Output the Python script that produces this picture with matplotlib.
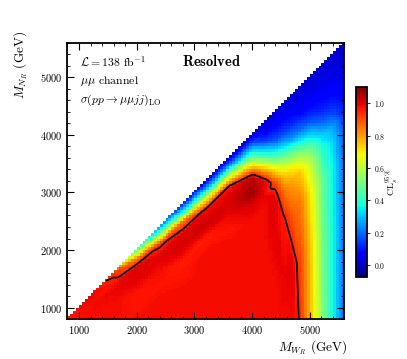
import numpy as np
import matplotlib
matplotlib.use("Agg")
import matplotlib.pyplot as plt
import matplotlib.tri as mtri
from matplotlib.ticker import MultipleLocator

plt.rcParams['font.family'] = 'serif'
plt.rcParams['font.serif'] = ['cmr10']
plt.rcParams['mathtext.fontset'] = 'cm'
plt.rcParams['axes.formatter.use_mathtext'] = True
plt.rcParams['axes.unicode_minus'] = False

# CLs on a coarse grid
# columns: M_WR nodes, rows: distance below the diagonal, M_WR - M_NR
mw_nodes = [800, 1200, 1600, 2000, 2400, 2800, 3200, 3600, 4000, 4200, 4400, 4550, 4700, 4850, 5000, 5200, 5400, 5600]
gap_nodes = [0, 150, 300, 500, 750, 1000, 1250, 1500, 2000, 3000, 4800]
cls_values = [
    # 800  1200  1600  2000  2400  2800  3200  3600  4000  4200  4400  4550  4700  4850  5000  5200  5400  5600
    [0.97, 0.99, 0.93, 0.50, 0.28, 0.14, 0.07, 0.04, 0.03, 0.03, 0.03, 0.03, 0.03, 0.02, 0.02, 0.02, 0.02, 0.01],
    [0.97, 0.98, 0.97, 0.86, 0.62, 0.42, 0.32, 0.27, 0.18, 0.06, 0.05, 0.05, 0.04, 0.03, 0.03, 0.03, 0.02, 0.02],
    [0.97, 0.98, 0.99, 1.00, 0.93, 0.84, 0.65, 0.60, 0.37, 0.14, 0.09, 0.08, 0.07, 0.05, 0.05, 0.04, 0.03, 0.02],
    [0.97, 0.98, 0.98, 1.00, 1.00, 1.00, 0.98, 0.97, 0.66, 0.36, 0.18, 0.15, 0.12, 0.09, 0.08, 0.06, 0.05, 0.03],
    [0.97, 0.98, 0.98, 0.97, 0.98, 1.01, 1.02, 1.01, 1.04, 0.70, 0.42, 0.33, 0.25, 0.20, 0.16, 0.11, 0.09, 0.05],
    [0.97, 0.98, 0.98, 0.97, 0.97, 0.96, 0.96, 0.99, 1.07, 1.00, 0.70, 0.56, 0.48, 0.40, 0.33, 0.20, 0.15, 0.08],
    [0.97, 0.98, 0.98, 0.98, 0.98, 0.97, 0.98, 0.97, 1.00, 0.99, 0.92, 0.74, 0.68, 0.60, 0.50, 0.34, 0.26, 0.12],
    [0.97, 0.98, 0.98, 0.98, 0.98, 0.98, 0.98, 0.98, 0.98, 0.98, 1.00, 0.84, 0.79, 0.74, 0.62, 0.42, 0.32, 0.16],
    [0.97, 0.98, 0.98, 0.98, 0.98, 0.98, 0.98, 0.98, 0.98, 0.98, 1.00, 0.96, 0.87, 0.84, 0.71, 0.50, 0.36, 0.18],
    [0.97, 0.98, 0.98, 0.98, 0.98, 0.98, 0.98, 0.98, 0.98, 0.98, 0.98, 0.99, 1.00, 0.90, 0.76, 0.53, 0.37, 0.19],
    [0.97, 0.98, 0.98, 0.98, 0.98, 0.98, 0.98, 0.98, 0.98, 0.98, 0.98, 0.98, 0.97, 0.94, 0.78, 0.55, 0.37, 0.18],
]
contour_level = 0.95
cbar_ticks = [0.0, 0.2, 0.4, 0.6, 0.8, 1.0]

# triangulation of the nodes (M_WR, M_NR)
mw = np.array(mw_nodes, dtype=float)
gap = np.array(gap_nodes, dtype=float)
nx, ny = len(mw), len(gap)
px = np.tile(mw, ny)
py = (mw[None, :] - gap[:, None]).ravel()
tris = []
for j in range(ny - 1):
    for i in range(nx - 1):
        k = j * nx + i
        tris.append([k, k + 1, k + nx + 1])
        tris.append([k, k + nx + 1, k + nx])
tri = mtri.Triangulation(px, py, tris)
interp = mtri.LinearTriInterpolator(tri, np.array(cls_values).ravel())


def field(step):
    edges = np.arange(800, 5600 + step, step)
    c = 0.5 * (edges[1:] + edges[:-1])
    X, Y = np.meshgrid(c, c)
    Z = interp(X, np.minimum(Y, X - 1.0))
    Z = np.ma.masked_where((Y > X) | np.ma.getmaskarray(Z), Z)
    return edges, X, Y, Z


fig = plt.figure(figsize=(4.07, 3.59), dpi=100)
ax = fig.add_axes([0.1658, 0.1106, 0.6806, 0.771])
cax = fig.add_axes([0.8747, 0.2292, 0.0263, 0.529])

edges, X, Y, Z = field(50)
mesh = ax.pcolormesh(edges, edges, Z, cmap='jet', vmin=-0.07, vmax=1.1, shading='flat')
_, Xf, Yf, Zf = field(20)
ax.contour(Xf, Yf, Zf, levels=[contour_level], colors='k', linewidths=1.2)

ax.set_xlim(800, 5600)
ax.set_ylim(800, 5600)
ax.xaxis.set_major_locator(MultipleLocator(1000))
ax.yaxis.set_major_locator(MultipleLocator(1000))
ax.xaxis.set_minor_locator(MultipleLocator(200))
ax.yaxis.set_minor_locator(MultipleLocator(200))
ax.tick_params(which='both', direction='in', top=True, right=True, labelsize=7.5)
ax.tick_params(which='major', length=5, width=0.8)
ax.tick_params(which='minor', length=2.5, width=0.6)
for s in ax.spines.values():
    s.set_linewidth(1.3)

ax.set_xlabel(r'$M_{W_R}$ (GeV)', fontsize=9.5, loc='right')
ax.xaxis.set_label_coords(1.01, -0.07)
ax.set_ylabel(r'$M_{N_R}$ (GeV)', fontsize=9.5, loc='top')
ax.yaxis.set_label_coords(-0.135, 1.04)

ax.text(0.045, 0.93, r'$\mathcal{L} = 138$ fb$^{-1}$', transform=ax.transAxes, fontsize=8.5, va='center')
ax.text(0.415, 0.93, r'$\mathbf{Resolved}$', transform=ax.transAxes, fontsize=10.5, va='center')
ax.text(0.045, 0.862, r'$\mu\mu$ channel', transform=ax.transAxes, fontsize=8.5, va='center')
ax.text(0.045, 0.792, r'$\sigma(pp\rightarrow\mu\mu jj)_{\rm LO}$', transform=ax.transAxes, fontsize=8.5, va='center')

cb = fig.colorbar(mesh, cax=cax, ticks=cbar_ticks)
cb.outline.set_linewidth(1.3)
cb.ax.tick_params(labelsize=5.5, length=2, width=0.6)
cb.set_label(r'CL$_s^{95\%}$', fontsize=7, labelpad=-1)

fig.savefig('out.png', dpi=100)
